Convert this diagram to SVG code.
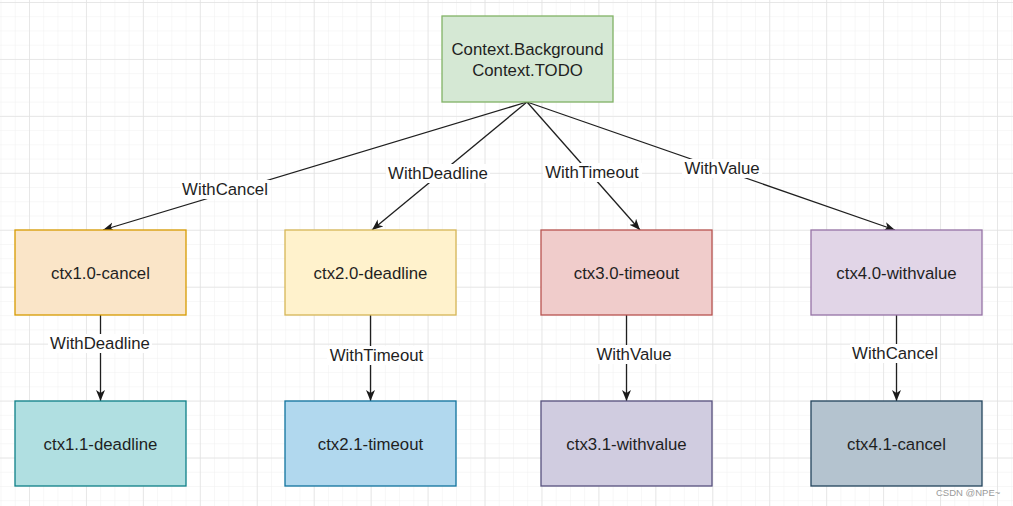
<svg xmlns="http://www.w3.org/2000/svg" width="1013" height="506" viewBox="0 0 1013 506">
  <defs>
    <pattern id="minor" patternUnits="userSpaceOnUse" x="29" y="2" width="14.235" height="14.235">
      <path d="M0,0 H14.235 M0,0 V14.235" fill="none" stroke="#f0f0f0" stroke-width="1"/>
    </pattern>
    <pattern id="major" patternUnits="userSpaceOnUse" x="29" y="2" width="56.94" height="56.94">
      <path d="M0,0 H56.94 M0,0 V56.94" fill="none" stroke="#e2e2e2" stroke-width="1.5"/>
    </pattern>
    <marker id="arrow" markerUnits="userSpaceOnUse" markerWidth="12" markerHeight="10" refX="11" refY="4.5" orient="auto">
      <path d="M0,0 L11,4.5 L0,9 L3,4.5 Z" fill="#1a1a1a"/>
    </marker>
  </defs>
  <style>
    .node text { font-family: "Liberation Sans", Arial, sans-serif; font-size: 16.8px; fill: #1f1f1f; text-anchor: middle; }
    .edge { fill: none; stroke: #1f1f1f; stroke-width: 1.3; marker-end: url(#arrow); }
    .lbl text { font-family: "Liberation Sans", Arial, sans-serif; font-size: 16.8px; fill: #1f1f1f; text-anchor: middle; }
    .lbl rect { fill: #ffffff; }
    .wm { font-family: "Liberation Sans", Arial, sans-serif; font-size: 9.5px; fill: #9a9a9a; }
  </style>
  <rect x="0" y="0" width="1013" height="506" fill="#ffffff"/>
  <rect x="0" y="0" width="1013" height="506" fill="url(#minor)"/>
  <rect x="0" y="0" width="1013" height="506" fill="url(#major)"/>

  <g id="connectors">
    <line class="edge" x1="527" y1="102" x2="103" y2="230"/>
    <line class="edge" x1="527" y1="102" x2="372" y2="230"/>
    <line class="edge" x1="527" y1="102" x2="640" y2="230"/>
    <line class="edge" x1="527" y1="102" x2="895" y2="230"/>
    <line class="edge" x1="100.5" y1="315" x2="100.5" y2="401"/>
    <line class="edge" x1="370.5" y1="315" x2="370.5" y2="401"/>
    <line class="edge" x1="626.5" y1="315" x2="626.5" y2="401"/>
    <line class="edge" x1="896.5" y1="315" x2="896.5" y2="401"/>
    <g class="lbl">
      <rect x="180" y="180" width="90" height="19"/>
      <text x="225" y="195">WithCancel</text>
      <rect x="386" y="164" width="104" height="19"/>
      <text x="438" y="179">WithDeadline</text>
      <rect x="543" y="163" width="99" height="19"/>
      <text x="592" y="178">WithTimeout</text>
      <rect x="682" y="159" width="80" height="19"/>
      <text x="722" y="174">WithValue</text>
      <rect x="48" y="334" width="104" height="19"/>
      <text x="100" y="349">WithDeadline</text>
      <rect x="327" y="346" width="99" height="19"/>
      <text x="376.5" y="361">WithTimeout</text>
      <rect x="594" y="345" width="80" height="19"/>
      <text x="634" y="360">WithValue</text>
      <rect x="850" y="344" width="90" height="19"/>
      <text x="895" y="359">WithCancel</text>
    </g>
  </g>

  <g id="root" class="node">
    <rect x="442" y="16" width="171" height="86" fill="#d5e8d4" stroke="#82b366" stroke-width="1.3"/>
    <text x="527.5" y="55">Context.Background</text>
    <text x="527.5" y="75.5">Context.TODO</text>
  </g>
  <g id="ctx1_0" class="node">
    <rect x="15" y="230" width="171" height="85" fill="#fae5c8" stroke="#d79b00" stroke-width="1.3"/>
    <text x="100.5" y="278.5">ctx1.0-cancel</text>
  </g>
  <g id="ctx2_0" class="node">
    <rect x="285" y="230" width="171" height="85" fill="#fff2cc" stroke="#d6b656" stroke-width="1.3"/>
    <text x="370.5" y="278.5">ctx2.0-deadline</text>
  </g>
  <g id="ctx3_0" class="node">
    <rect x="541" y="230" width="171" height="85" fill="#f0cccb" stroke="#b85450" stroke-width="1.3"/>
    <text x="626.5" y="278.5">ctx3.0-timeout</text>
  </g>
  <g id="ctx4_0" class="node">
    <rect x="811" y="230" width="171" height="85" fill="#e1d5e7" stroke="#9673a6" stroke-width="1.3"/>
    <text x="896.5" y="278.5">ctx4.0-withvalue</text>
  </g>
  <g id="ctx1_1" class="node">
    <rect x="15" y="401" width="171" height="85" fill="#b0dfe1" stroke="#0e8088" stroke-width="1.3"/>
    <text x="100.5" y="449.5">ctx1.1-deadline</text>
  </g>
  <g id="ctx2_1" class="node">
    <rect x="285" y="401" width="171" height="85" fill="#b1d8ee" stroke="#10739e" stroke-width="1.3"/>
    <text x="370.5" y="449.5">ctx2.1-timeout</text>
  </g>
  <g id="ctx3_1" class="node">
    <rect x="541" y="401" width="171" height="85" fill="#d0cce0" stroke="#56517e" stroke-width="1.3"/>
    <text x="626.5" y="449.5">ctx3.1-withvalue</text>
  </g>
  <g id="ctx4_1" class="node">
    <rect x="811" y="401" width="171" height="85" fill="#b4c3cf" stroke="#23445d" stroke-width="1.3"/>
    <text x="896.5" y="449.5">ctx4.1-cancel</text>
  </g>
  <text class="wm" x="936" y="495.5">CSDN @NPE~</text>
</svg>
